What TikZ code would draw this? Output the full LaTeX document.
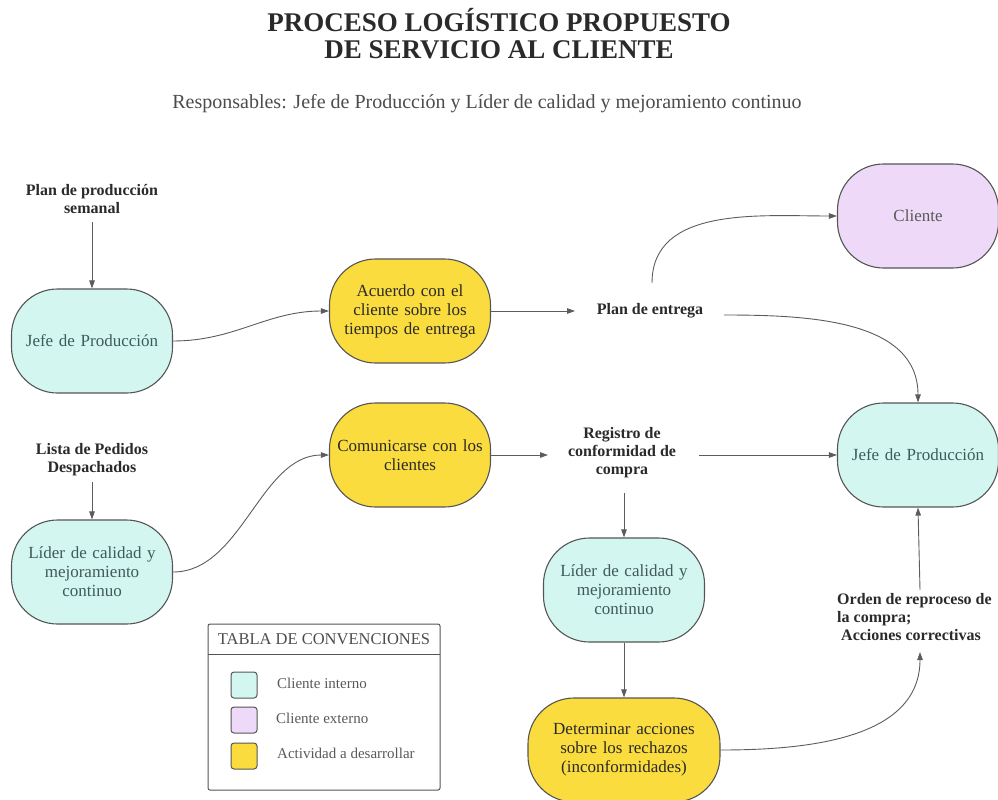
\documentclass[tikz,border=0pt]{standalone}
\usepackage{fontspec}
\setmainfont{Liberation Serif}
\usetikzlibrary{arrows.meta}
\definecolor{interno}{HTML}{D4F6F1}
\definecolor{externo}{HTML}{EEDAF8}
\definecolor{actividad}{HTML}{FBDC3E}
\definecolor{borde}{HTML}{555555}
\definecolor{flecha}{HTML}{5C5C5C}
\definecolor{tinta}{HTML}{2A2A2A}
\definecolor{tintaint}{HTML}{3F5A58}
\begin{document}
\begin{tikzpicture}[x=1pt,y=-1pt,
  box/.style={draw=borde, line width=1.1pt, rounded corners=46pt,
    minimum width=161pt, minimum height=104pt, inner sep=2pt,
    text width=154pt, align=center, font=\fontsize{17}{19}\selectfont},
  intbox/.style={box, fill=interno, text=tintaint},
  extbox/.style={box, fill=externo, text=black!65},
  actbox/.style={box, fill=actividad, text=tinta},
  doc/.style={font=\bfseries\fontsize{16}{18}\selectfont, text=tinta, align=center, inner sep=0pt},
  flow/.style={draw=flecha, line width=0.9pt, -{Triangle[length=8pt,width=5.5pt]}},
  swatch/.style={draw=borde, line width=1pt, rounded corners=3pt, minimum width=26pt, minimum height=26pt, inner sep=0pt},
  legtext/.style={font=\fontsize{15}{18}\selectfont, text=black!65, anchor=west, inner sep=0pt}
]
\useasboundingbox (0,0) rectangle (998,800);

% title block
\node[font=\bfseries\fontsize{27}{27}\selectfont, text=tinta, align=center] (titulo) at (499,34)
  {PROCESO LOGÍSTICO PROPUESTO\\DE SERVICIO AL CLIENTE};
\node[font=\fontsize{20}{22}\selectfont, text=black!70] (resp) at (487,104)
  {Responsables: Jefe de Producción y Líder de calidad y mejoramiento continuo};

% process boxes
\node[intbox] (jefeA) at (92,341) {Jefe de Producción};
\node[actbox] (acuerdo) at (410,311) {Acuerdo con el\\cliente sobre los\\tiempos de entrega};
\node[extbox] (cliente) at (918,216) {Cliente};
\node[intbox] (jefeB) at (918,455) {Jefe de Producción};
\node[actbox] (comunica) at (410,455) {Comunicarse con los\\clientes\\[8pt]};
\node[intbox] (liderA) at (92,572) {Líder de calidad y\\mejoramiento\\continuo};
\node[intbox] (liderB) at (624,590) {Líder de calidad y\\mejoramiento\\continuo};
\node[actbox, minimum width=192pt] (determina) at (624,750) {Determinar acciones\\sobre los rechazos\\(inconformidades)};

% documents exchanged
\node[doc] (planprod) at (92,199) {Plan de producción\\semanal};
\node[doc] (lista) at (92,460) {Lista de Pedidos\\Despachados};
\node[doc] (planent) at (650,311) {Plan de entrega};
\node[doc] (registro) at (622,453) {Registro de\\conformidad de\\compra};
\node[doc, align=left, anchor=west] (orden) at (837,617) {Orden de reproceso de\\la compra;\\\ Acciones correctivas};

% free ends of the connectors around the document labels
\coordinate (prodOut) at (92,222);
\coordinate (listaOut) at (92,482);
\coordinate (entIn) at (575,311);
\coordinate (entUp) at (652,283);
\coordinate (entOut) at (724,315);
\coordinate (regIn) at (548,455);
\coordinate (regOut) at (699,455);
\coordinate (regDown) at (624,493);
\coordinate (ordIn) at (920,652);
\coordinate (ordOut) at (920,590);

% connectors
\draw[flow] (prodOut) -- (jefeA.north);
\draw[flow] (listaOut) -- (liderA.north);
\draw[flow] (jefeA.east) to[out=0,in=180] (acuerdo.west);
\draw[flow] (liderA.east) to[out=0,in=180,looseness=0.9] (comunica.west);
\draw[flow] (acuerdo.east) -- (entIn);
\draw[flow] (entUp) to[out=90,in=180] (cliente.west);
\draw[flow] (entOut) to[out=0,in=90] (jefeB.north);
\draw[flow] (comunica.east) -- (regIn);
\draw[flow] (regOut) -- (jefeB.west);
\draw[flow] (regDown) -- (liderB.north);
\draw[flow] (liderB.south) -- (determina.north);
\draw[flow] (determina.east) to[out=0,in=-90] (ordIn);
\draw[flow] (ordOut) -- (jefeB.south);

% legend
\draw[draw=borde, line width=1pt, rounded corners=2pt] (208,624) rectangle (440,790);
\draw[draw=borde, line width=1pt] (208,654) -- (440,654);
\node[font=\fontsize{16.5}{18}\selectfont, text=black!70] (legtit) at (324,639) {TABLA DE CONVENCIONES};
\node[swatch, fill=interno] (swA) at (244,685) {};
\node[swatch, fill=externo] (swB) at (244,720) {};
\node[swatch, fill=actividad] (swC) at (244,756) {};
\node[legtext] (legA) at (277,683) {Cliente interno};
\node[legtext] (legB) at (276,718) {Cliente externo};
\node[legtext] (legC) at (277,753) {Actividad a desarrollar};
\end{tikzpicture}
\end{document}
